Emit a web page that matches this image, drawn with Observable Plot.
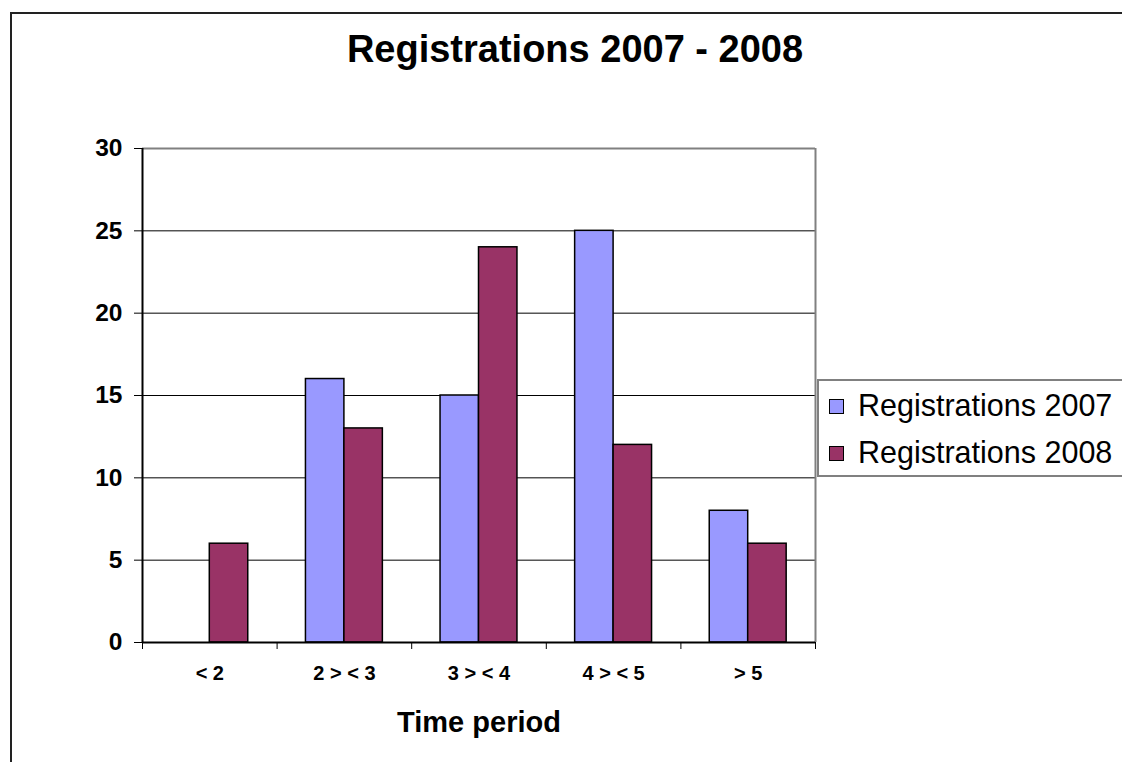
<!DOCTYPE html>
<html>
<head>
<meta charset="utf-8">
<script src="https://cdn.jsdelivr.net/npm/d3@7"></script>
<script src="https://cdn.jsdelivr.net/npm/@observablehq/plot@0.6"></script>
<style>
  html, body { margin: 0; padding: 0; background: #fff; overflow: hidden; }
  #chart { position: relative; width: 1122px; height: 762px; overflow: hidden;
           font-family: "Liberation Sans", Arial, sans-serif; }
  #outer { position: absolute; left: 10px; top: 12px; width: 1300px; height: 900px;
           border-left: 2px solid #222; border-top: 2px solid #222; }
  #title { position: absolute; left: 0; width: 1150px; top: 27px; text-align: center;
           font-weight: bold; font-size: 38px; line-height: 44px; color: #000; }
  #legend { position: absolute; left: 817px; top: 379px; width: 360px; height: 94px;
            border: 2px solid #808080; background: #fff; }
  .item { position: absolute; left: 10px; font-size: 30.5px; line-height: 32px; color: #000; white-space: nowrap; }
  .sw { display: inline-block; width: 13px; height: 13px; border: 1.5px solid #000;
        margin-right: 14px; vertical-align: 2px; }
  #plot { position: absolute; left: 0; top: 0; }
</style>
</head>
<body>
<div id="chart">
  <div id="outer"></div>
  <div id="plot"></div>
  <div id="title">Registrations 2007 - 2008</div>
  <div id="legend"></div>
</div>
<script>
// Categories and values
const categories = ["< 2", "2 > < 3", "3 > < 4", "4 > < 5", "> 5"];
const seriesNames = ["Registrations 2007", "Registrations 2008"];
const reg2007 = [null, 16, 15, 25, 8];
const reg2008 = [6, 13, 24, 12, 6];
const yTicks = [0, 5, 10, 15, 20, 25, 30];
const xTitle = "Time period";

// Style
const colors = ["#9999FF", "#993366"];
const gapWidth = 1.5; // gap between groups, in bar widths

const seriesValues = [reg2007, reg2008];
const barW = 1 / (seriesNames.length + gapWidth);
const rows = categories.flatMap((period, i) =>
  seriesNames.map((series, s) => ({
    period, series, value: seriesValues[s][i],
    x1: i + 0.5 + (s - seriesNames.length / 2) * barW,
    x2: i + 0.5 + (s - seriesNames.length / 2 + 1) * barW
  }))
).filter(d => d.value != null);

const boundaries = d3.range(categories.length + 1);
const centers = categories.map((_, i) => i + 0.5);

const chart = Plot.plot({
  width: 1122,
  height: 762,
  marginLeft: 142,
  marginRight: 307,
  marginTop: 148,
  marginBottom: 120,
  style: { fontFamily: "'Liberation Sans', Arial, sans-serif", fontWeight: "bold", background: "transparent", color: "#000" },
  x: { type: "linear", domain: [0, categories.length] },
  y: { domain: [0, 30] },
  color: { domain: seriesNames, range: colors },
  marks: [
    Plot.ruleY(yTicks.slice(1, -1), { stroke: "#000", strokeWidth: 1 }),
    Plot.ruleY([30], { stroke: "#808080", strokeWidth: 2 }),
    Plot.ruleX([categories.length], { stroke: "#808080", strokeWidth: 2 }),
    Plot.rectY(rows, { x1: "x1", x2: "x2", y: "value", fill: "series", stroke: "#000", strokeWidth: 1.5 }),
    Plot.ruleY([0], { stroke: "#000", strokeWidth: 2 }),
    Plot.ruleX([0], { stroke: "#000", strokeWidth: 2 }),
    Plot.axisY({ ticks: yTicks, tickSize: 8, tickPadding: 12, fontSize: 24.5, label: null, stroke: "#000" }),
    Plot.axisX({ ticks: boundaries, tickSize: 7, tickFormat: () => "", label: null, stroke: "#000" }),
    Plot.axisX({ ticks: centers, tickSize: 0, tickPadding: 23, fontSize: 20, label: null,
                 tickFormat: d => categories[Math.floor(d)] }),
    Plot.text([xTitle], { frameAnchor: "bottom", dy: 89, fontSize: 29, fontWeight: "bold", fill: "#000" })
  ]
});
document.getElementById("plot").appendChild(chart);

// Legend
const legend = document.getElementById("legend");
seriesNames.forEach((name, s) => {
  const item = document.createElement("div");
  item.className = "item";
  item.style.top = (8 + s * 47) + "px";
  const sw = document.createElement("span");
  sw.className = "sw";
  sw.style.background = colors[s];
  item.appendChild(sw);
  item.appendChild(document.createTextNode(name));
  legend.appendChild(item);
});
</script>
</body>
</html>
